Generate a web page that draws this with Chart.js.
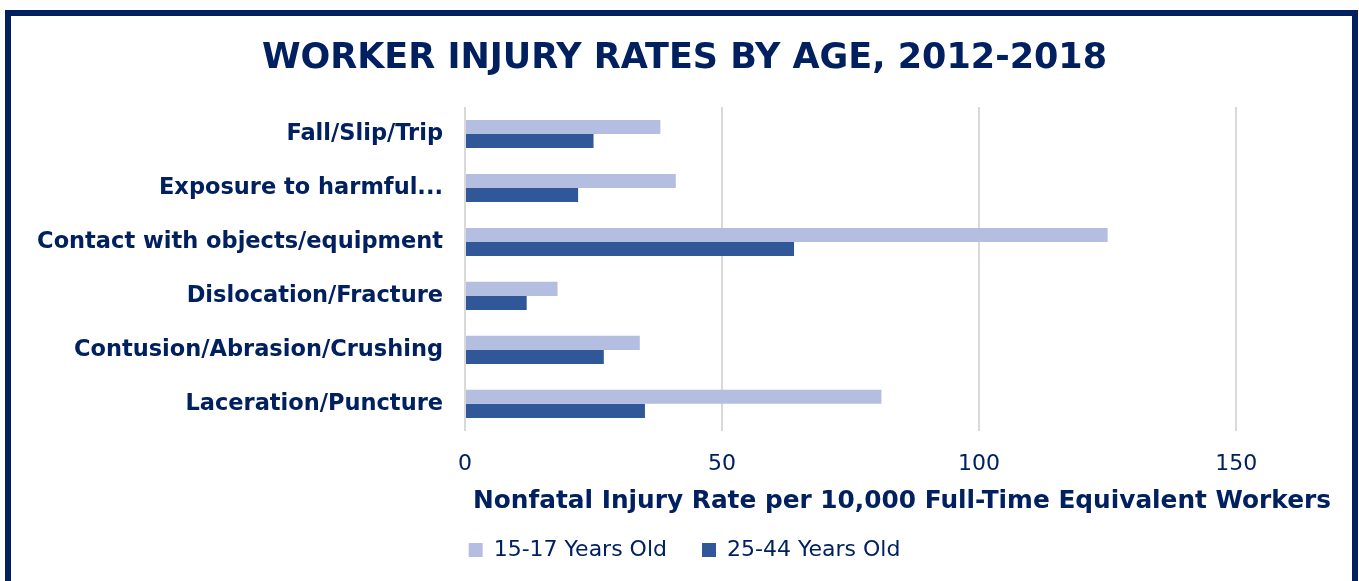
<!DOCTYPE html>
<html>
<head>
<meta charset="utf-8">
<script src="https://cdn.jsdelivr.net/npm/chart.js@4"></script>
<style>
  html, body { margin: 0; padding: 0; background: #fff; overflow: hidden; }
  #wrap { position: absolute; left: 0; top: 0; width: 1359px; height: 581px; }
  #frame { position: absolute; left: 5px; top: 10px; width: 1353px; height: 620px;
           box-sizing: border-box; border: 6px solid #002060; border-bottom: none; pointer-events: none; }
</style>
</head>
<body>
<div id="wrap">
  <canvas id="injury-chart" width="1359" height="581"></canvas>
  <div id="frame"></div>
</div>
<script>
Chart.defaults.font.family = '"DejaVu Sans", sans-serif';

// Categories (top to bottom) and rates per 10,000 FTE workers
const categories = [
  "Fall/Slip/Trip",
  "Exposure to harmful...",
  "Contact with objects/equipment",
  "Dislocation/Fracture",
  "Contusion/Abrasion/Crushing",
  "Laceration/Puncture"
];
const youngRates = [38, 41, 125, 18, 34, 81];   // 15-17 Years Old
const adultRates = [25, 22, 64, 12, 27, 35];    // 25-44 Years Old
const xTickValues = [0, 50, 100, 150];

const navy = "#002060";
const lightBlue = "rgb(180, 190, 224)";
const darkBlue = "rgb(48, 88, 153)";

const ctx = document.getElementById("injury-chart").getContext("2d");
const injuryChart = new Chart(ctx, {
  type: "bar",
  data: {
    labels: categories,
    datasets: [
      { label: "15-17 Years Old", data: youngRates, backgroundColor: lightBlue },
      { label: "25-44 Years Old", data: adultRates, backgroundColor: darkBlue }
    ]
  },
  options: {
    indexAxis: "y",
    responsive: false,
    animation: false,
    layout: { padding: { left: 30, right: 20, top: 24, bottom: 10 } },
    datasets: { bar: { categoryPercentage: 0.52, barPercentage: 1.0 } },
    scales: {
      x: {
        min: 0,
        max: 170,
        afterBuildTicks: (scale) => {
          scale.ticks = xTickValues.map(v => ({ value: v }));
        },
        grid: { color: "#d9d9d9", lineWidth: 2, drawTicks: false },
        border: { display: false },
        ticks: { color: navy, font: { size: 22 }, padding: 20 },
        title: {
          display: true,
          text: "Nonfatal Injury Rate per 10,000 Full-Time Equivalent Workers",
          color: navy,
          font: { size: 24.8, weight: "bold" },
          padding: { top: -11, bottom: -12 }
        }
      },
      y: {
        grid: { display: false, drawTicks: false },
        border: { display: false },
        ticks: { color: navy, font: { size: 22.5, weight: "bold" }, padding: 22 },
        afterFit: (scale) => { scale.width = 435; }
      }
    },
    plugins: {
      title: {
        display: true,
        text: "WORKER INJURY RATES BY AGE, 2012-2018",
        color: navy,
        font: { size: 35, weight: "bold" },
        padding: { top: 14, bottom: 27 }
      },
      legend: {
        position: "bottom",
        labels: {
          color: navy,
          font: { size: 22 },
          boxWidth: 14,
          boxHeight: 14,
          padding: 35
        }
      },
      tooltip: { enabled: false }
    }
  }
});
</script>
</body>
</html>
